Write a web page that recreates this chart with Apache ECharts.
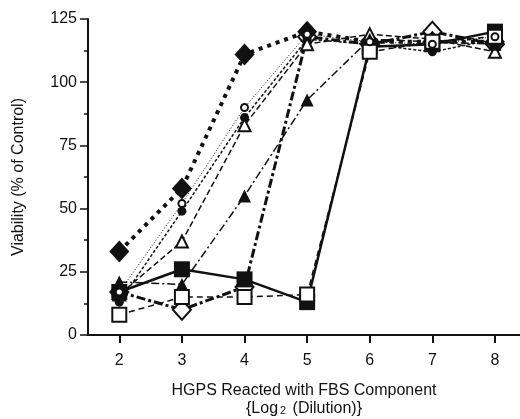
<!DOCTYPE html>
<html>
<head>
<meta charset="utf-8">
<script src="https://cdn.jsdelivr.net/npm/echarts@6/dist/echarts.min.js"></script>
<style>
  html, body { margin: 0; padding: 0; background: #fff; }
  #chart { width: 520px; height: 419px; }
</style>
</head>
<body>
<div id="chart"></div>
<script>
// x 轴: log2 稀释度
var dilutions = [2, 3, 4, 5, 6, 7, 8];
var yTicks = [0, 25, 50, 75, 100, 125];

// 各组数据 (% of control)
var filledDiamond  = [33, 58, 111, 120, 116, 116, 116];
var filledCircle   = [13, 49, 86, 117, 115, 112, 117];
var openTriangle   = [16, 37, 83, 115, 119, 117, 112];
var filledTriangle = [21, 20, 55, 93, 117, 116, 115];
var filledSquare   = [17, 26, 22, 13, 114, 115, 120];
var openSquare     = [8, 15, 15, 16, 112, 116, 118];
var openDiamond    = [17, 10, 19, 118, 115, 120, 115];
var openCircle     = [17, 52, 90, 119, 116, 115, 118];

var ink = '#111';
var font = 'Liberation Sans';

function pairs(vals) {
    return vals.map(function(v, i) { return [dilutions[i], v]; });
}

function makeSeries(vals, symbol, size, filled, lineWidth, lineType) {
    return {
        type: 'line',
        data: pairs(vals),
        symbol: symbol,
        symbolSize: size,
        showAllSymbol: true,
        animation: false,
        lineStyle: { color: ink, width: lineWidth, type: lineType },
        itemStyle: filled
            ? { color: ink, borderColor: ink, borderWidth: 0 }
            : { color: '#fff', borderColor: ink, borderWidth: 2 }
    };
}

function initEcharts() {
    var myChart = echarts.init(document.getElementById('chart'));

    var option = {
        animation: false,
        grid: { left: 88, right: 0, top: 19, bottom: 84, outerBoundsMode: 'none', containLabel: false },
        xAxis: {
            type: 'value',
            min: 1.5,
            max: 8.4,
            name: 'HGPS Reacted with FBS Component\n{Log{sub|2} (Dilution)}',
            nameLocation: 'middle',
            nameGap: 47,
            nameTextStyle: {
                fontSize: 16, color: ink, fontFamily: font, lineHeight: 18,
                rich: { sub: { fontSize: 11, color: ink, fontFamily: font, padding: [3, 2, 0, 2] } }
            },
            axisLine: { lineStyle: { color: ink, width: 2 } },
            axisTick: { length: 8, lineStyle: { color: ink, width: 2 }, customValues: dilutions },
            axisLabel: { fontSize: 16, color: ink, fontFamily: font, margin: 18, customValues: dilutions },
            splitLine: { show: false }
        },
        yAxis: {
            type: 'value',
            min: yTicks[0],
            max: yTicks[yTicks.length - 1],
            interval: 25,
            name: 'Viability (% of Control)',
            nameLocation: 'middle',
            nameGap: 61,
            nameTextStyle: { fontSize: 16, color: ink, fontFamily: font },
            axisLine: { show: true, lineStyle: { color: ink, width: 2 } },
            axisTick: { show: true, length: 8, lineStyle: { color: ink, width: 1.5 } },
            minorTick: { show: true, splitNumber: 2, length: 4, lineStyle: { color: ink, width: 1.5 } },
            axisLabel: { fontSize: 16, color: ink, fontFamily: font, margin: 11 },
            splitLine: { show: false }
        },
        series: [
            makeSeries(openDiamond, 'diamond', [18, 20], false, 3, [9, 3, 3, 3]),
            makeSeries(filledDiamond, 'diamond', [20, 22], true, 4, [4, 5]),
            makeSeries(filledCircle, 'circle', 9, true, 1.5, [3, 2]),
            makeSeries(openTriangle, 'triangle', 12, false, 1.5, [6, 3]),
            makeSeries(filledTriangle, 'triangle', 13, true, 1.5, [8, 3, 2, 3]),
            makeSeries(filledSquare, 'rect', 16, true, 2.5, 'solid'),
            makeSeries(openSquare, 'rect', 14, false, 1.5, [6, 4]),
            makeSeries(openCircle, 'circle', 7, false, 1, [1, 2])
        ]
    };

    myChart.setOption(option);
    resize(myChart);
}

// 响应式
function resize(echart) {
    window.onresize = function() {
        echart.resize();
    };
}

initEcharts();
</script>
</body>
</html>
